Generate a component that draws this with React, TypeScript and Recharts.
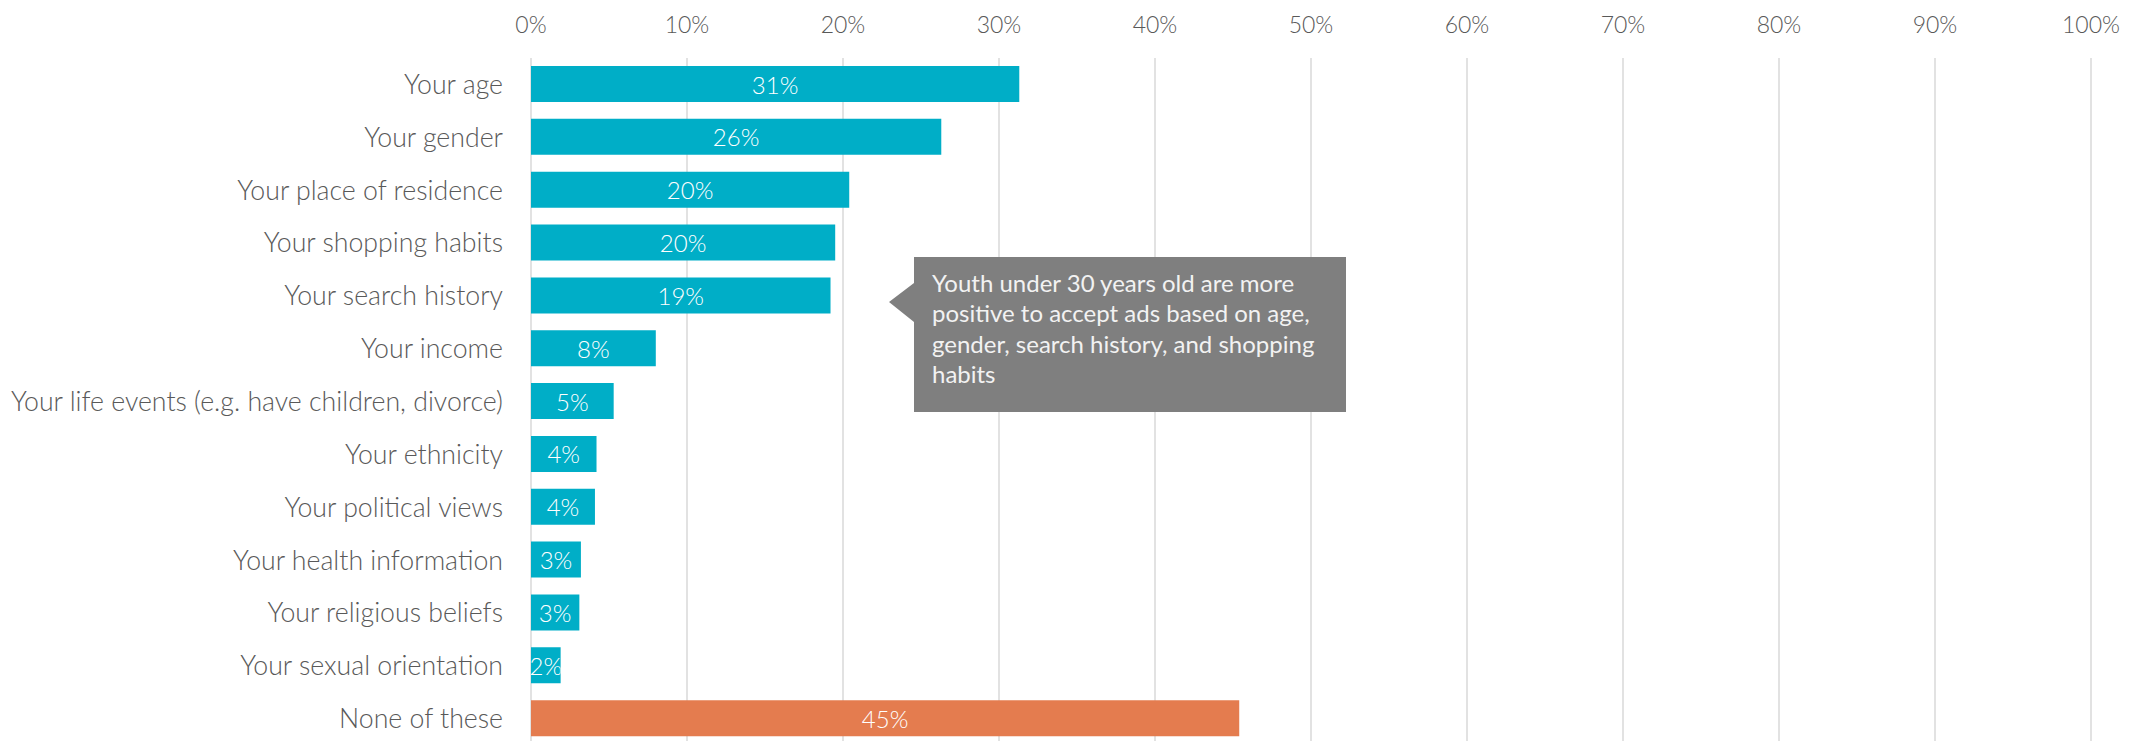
import { BarChart, Bar, XAxis, YAxis, CartesianGrid, Cell, LabelList } from 'recharts';

const categories = [
  'Your age',
  'Your gender',
  'Your place of residence',
  'Your shopping habits',
  'Your search history',
  'Your income',
  'Your life events (e.g. have children, divorce)',
  'Your ethnicity',
  'Your political views',
  'Your health information',
  'Your religious beliefs',
  'Your sexual orientation',
  'None of these',
];

const shares = [31.3, 26.3, 20.4, 19.5, 19.2, 8.0, 5.3, 4.2, 4.1, 3.2, 3.1, 1.9, 45.4];

const xTicks = [0, 10, 20, 30, 40, 50, 60, 70, 80, 90, 100];

const calloutText = [
  'Youth under 30 years old are more',
  'positive to accept ads based on age,',
  'gender, search history, and shopping',
  'habits',
];

const data = categories.map((name, i) => ({ name, value: shares[i] }));

const FONT = 'Lato, "Open Sans", sans-serif';

// value label, clipped to its bar like the original
const BarValue = (props: any) => {
  const { x, y, width, height, value, index } = props;
  const id = `bar-clip-${index}`;
  return (
    <g>
      <defs>
        <clipPath id={id}>
          <rect x={x} y={y} width={width} height={height} />
        </clipPath>
      </defs>
      <text
        x={x + width / 2}
        y={y + height / 2}
        textAnchor="middle"
        dominantBaseline="central"
        fill="#ffffff"
        fontSize={24}
        fontFamily={FONT}
        fontWeight={300}
        clipPath={`url(#${id})`}
      >
        {`${Math.round(value)}%`}
      </text>
    </g>
  );
};

export default function App() {
  return (
    <div style={{ position: 'fixed', left: 0, top: 0, width: 2145, height: 741, overflow: 'hidden', background: '#fff' }}>
      <BarChart
        width={2145}
        height={745}
        data={data}
        layout="vertical"
        margin={{ top: 0, right: 54, bottom: 0, left: 0 }}
        barSize={36}
      >
        <CartesianGrid horizontal={false} stroke="#d9d9d9" strokeWidth={1.5} />
        <XAxis
          type="number"
          orientation="top"
          domain={[0, 100]}
          ticks={xTicks}
          tickFormatter={(v) => `${v}%`}
          axisLine={false}
          tickLine={false}
          tickSize={0}
          tickMargin={25}
          height={58}
          tick={{ fontSize: 23, fill: '#595959', fontFamily: FONT, fontWeight: 300 }}
        />
        <YAxis
          type="category"
          dataKey="name"
          width={531}
          axisLine={false}
          tickLine={false}
          tickSize={0}
          tickMargin={28}
          interval={0}
          tick={{ fontSize: 26.7, fill: '#595959', fontFamily: FONT, fontWeight: 300 }}
        />
        <Bar dataKey="value" isAnimationActive={false}>
          {data.map((d, i) => (
            <Cell key={d.name} fill={i === data.length - 1 ? '#e47c4f' : '#00aec7'} />
          ))}
          <LabelList dataKey="value" content={BarValue} />
        </Bar>
      </BarChart>

      {/* callout */}
      <svg style={{ position: 'absolute', left: 0, top: 0 }} width={2145} height={741} pointerEvents="none">
        <path d="M914 257 H1346 V412 H914 V322 L889 302 L914 283 Z" fill="#7f7f7f" />
        {calloutText.map((line, i) => (
          <text
            key={i}
            x={932}
            y={282 + i * 30.5}
            dominantBaseline="central"
            fill="#f2f2f2"
            fontSize={24}
            fontFamily={FONT}
          >
            {line}
          </text>
        ))}
      </svg>
    </div>
  );
}
